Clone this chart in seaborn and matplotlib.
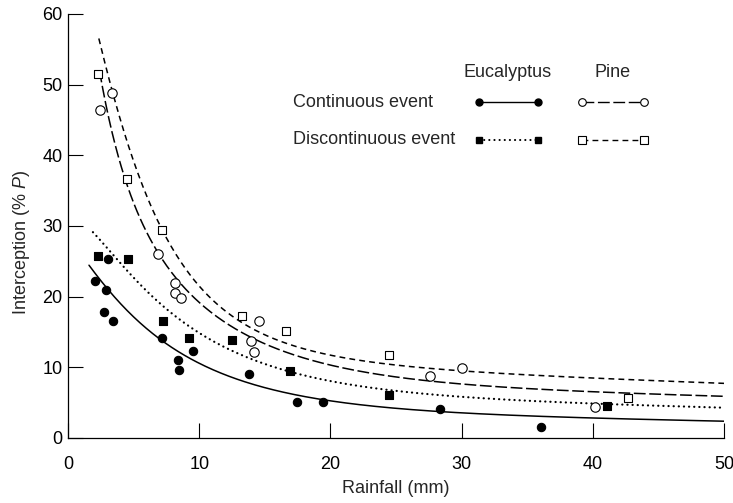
import numpy as np
import pandas as pd
import matplotlib
matplotlib.use("Agg")
import matplotlib.pyplot as plt
import seaborn as sns

# ---- observed events: rainfall (mm) and interception (% of P) ----
euc_cont_rain = [2.06, 2.9, 3.02, 2.74, 3.45, 7.19, 8.41, 8.43, 9.55, 13.8, 17.48, 19.46, 28.35, 36.05]
euc_cont_int = [22.2, 20.9, 25.4, 17.8, 16.6, 14.2, 11.1, 9.65, 12.25, 9.05, 5.05, 5.1, 4.15, 1.6]

euc_disc_rain = [2.26, 4.6, 7.24, 9.22, 12.47, 16.95, 24.5, 41.06]
euc_disc_int = [25.8, 25.3, 16.6, 14.2, 13.9, 9.5, 6.15, 4.55]

pine_cont_rain = [2.46, 3.38, 6.85, 8.16, 8.16, 8.61, 14.53, 13.92, 14.18, 27.58, 30.05, 40.17]
pine_cont_int = [46.4, 48.8, 26.0, 21.9, 20.5, 19.8, 16.6, 13.75, 12.1, 8.75, 9.85, 4.36]

pine_disc_rain = [2.31, 4.47, 7.19, 13.24, 16.59, 24.49, 42.7]
pine_disc_int = [51.5, 36.6, 29.4, 17.25, 15.2, 11.7, 5.6]

# ---- fitted relationships, sampled along each curve ----
euc_cont_curve_rain = [1.6, 2.95, 7.2, 10.1, 13.8, 17.5, 20.0, 28.4, 35.2, 40.0, 50.0]
euc_cont_curve_int = [24.6, 20.9, 14.2, 10.4, 7.8, 5.6, 5.0, 4.1, 3.45, 2.9, 2.1]

euc_disc_curve_rain = [1.9, 3.3, 5.7, 8.2, 10.3, 12.6, 15.1, 17.0, 20.3, 24.6, 30.1, 35.2, 40.5, 50.0]
euc_disc_curve_int = [29.2, 26.0, 21.6, 17.1, 14.5, 12.4, 10.5, 9.1, 7.8, 6.75, 5.95, 5.45, 4.8, 4.2]

pine_cont_curve_rain = [2.4, 2.95, 3.7, 4.5, 5.5, 6.9, 8.9, 10.1, 12.6, 15.1, 17.7, 20.5, 24.0, 27.6, 33.0, 40.5, 50.0]
pine_cont_curve_int = [52.1, 46.8, 40.0, 36.0, 31.5, 25.9, 21.3, 19.2, 15.7, 13.1, 11.2, 9.7, 9.0, 8.6, 7.3, 6.45, 5.8]

pine_disc_curve_rain = [2.35, 3.45, 4.5, 5.7, 6.9, 8.2, 10.2, 12.6, 15.1, 17.7, 20.5, 25.2, 30.1, 35.2, 40.5, 50.0]
pine_disc_curve_int = [56.4, 48.8, 42.2, 35.6, 29.9, 26.0, 21.2, 17.8, 14.7, 12.4, 11.0, 10.35, 9.7, 9.1, 8.4, 7.65]

x_ticks = [0, 10, 20, 30, 40, 50]
y_ticks = [0, 10, 20, 30, 40, 50, 60]

sns.set_theme(style="ticks")
plt.rcParams["font.family"] = ["Liberation Sans", "DejaVu Sans"]
plt.rcParams["lines.scale_dashes"] = False
plt.rcParams["mathtext.fontset"] = "custom"
plt.rcParams["mathtext.it"] = "Liberation Sans:italic"
plt.rcParams["mathtext.rm"] = "Liberation Sans"

FS = 13
SOLID = "-"
DOTTED = (0, (0.1, 3.6))
LONG_DASH = (0, (8.5, 2.6))
SHORT_DASH = (0, (4.2, 3.0))


def smooth_fit(rain, inter, x_end=50.0):
    """Least-squares fit: linear trend plus three exponential decays."""
    r = np.asarray(rain, dtype=float)
    v = np.asarray(inter, dtype=float)

    def basis(t):
        return np.column_stack([np.ones_like(t), t, np.exp(-t / 2.0),
                                np.exp(-t / 4.0), np.exp(-t / 8.0)])

    coef, *_ = np.linalg.lstsq(basis(r), v, rcond=None)
    grid = np.linspace(r.min(), x_end, 400)
    return pd.DataFrame({"rain": grid, "inter": basis(grid) @ coef})


fig = plt.figure(figsize=(7.33, 5.03), dpi=100)
ax = fig.add_axes([68 / 733, 1 - 438 / 503, 656 / 733, 424 / 503])

curves = [
    (euc_cont_curve_rain, euc_cont_curve_int, SOLID, "round"),
    (euc_disc_curve_rain, euc_disc_curve_int, DOTTED, "round"),
    (pine_cont_curve_rain, pine_cont_curve_int, LONG_DASH, "butt"),
    (pine_disc_curve_rain, pine_disc_curve_int, SHORT_DASH, "butt"),
]
for rain, inter, ls, cap in curves:
    df = smooth_fit(rain, inter)
    lw = 1.6 if ls is DOTTED else 1.1
    sns.lineplot(data=df, x="rain", y="inter", ax=ax, color="black", lw=lw,
                 linestyle=ls, dash_capstyle=cap, sort=False, estimator=None,
                 zorder=2)

points = [
    (euc_cont_rain, euc_cont_int, "o", "black", 36),
    (euc_disc_rain, euc_disc_int, "s", "black", 32),
    (pine_cont_rain, pine_cont_int, "o", "white", 46),
    (pine_disc_rain, pine_disc_int, "s", "white", 40),
]
for rain, inter, mk, face, size in points:
    sns.scatterplot(x=rain, y=inter, ax=ax, marker=mk, s=size, color=face,
                    edgecolor="black", linewidth=0.8, zorder=3, legend=False)

ax.set_xlim(0, 50)
ax.set_ylim(0, 60)
ax.set_xticks(x_ticks)
ax.set_yticks(y_ticks)
ax.tick_params(axis="both", direction="in", length=10.8, width=0.8,
               colors="black", labelsize=FS)
ax.tick_params(axis="x", pad=13)
ax.tick_params(axis="y", pad=4)
for side in ("top", "right"):
    ax.spines[side].set_visible(False)
for side in ("left", "bottom"):
    ax.spines[side].set_linewidth(0.9)
    ax.spines[side].set_color("black")

ax.set_xlabel("Rainfall (mm)", fontsize=FS, labelpad=5)
ax.set_ylabel(r"Interception (% $P$)", fontsize=FS)
ax.yaxis.set_label_coords(-0.055, 0.46)

# key drawn inside the plot area
tr = ax.transAxes
ax.text(0.6703, 0.862, "Eucalyptus", transform=tr, ha="center", va="center", fontsize=FS)
ax.text(0.8308, 0.862, "Pine", transform=tr, ha="center", va="center", fontsize=FS)
rows = [("Continuous event", 0.7915, SOLID, LONG_DASH, "o"),
        ("Discontinuous event", 0.7038, DOTTED, SHORT_DASH, "s")]
for label, yy, ls_e, ls_p, mk in rows:
    ax.text(0.343, yy, label, transform=tr, ha="left", va="center", fontsize=FS)
    ax.plot([0.6265, 0.7165], [yy, yy], transform=tr, color="black",
            lw=1.5 if ls_e is DOTTED else 1.0, linestyle=ls_e,
            dash_capstyle="round", marker=mk, markersize=5,
            markerfacecolor="black", markeredgecolor="black", clip_on=False)
    ax.plot([0.7831, 0.8785], [yy, yy], transform=tr, color="black", lw=1.0,
            linestyle=ls_p, marker=mk, markersize=5.5, markerfacecolor="white",
            markeredgecolor="black", markeredgewidth=0.8, clip_on=False)

fig.savefig("out.png", dpi=100, facecolor="white")
